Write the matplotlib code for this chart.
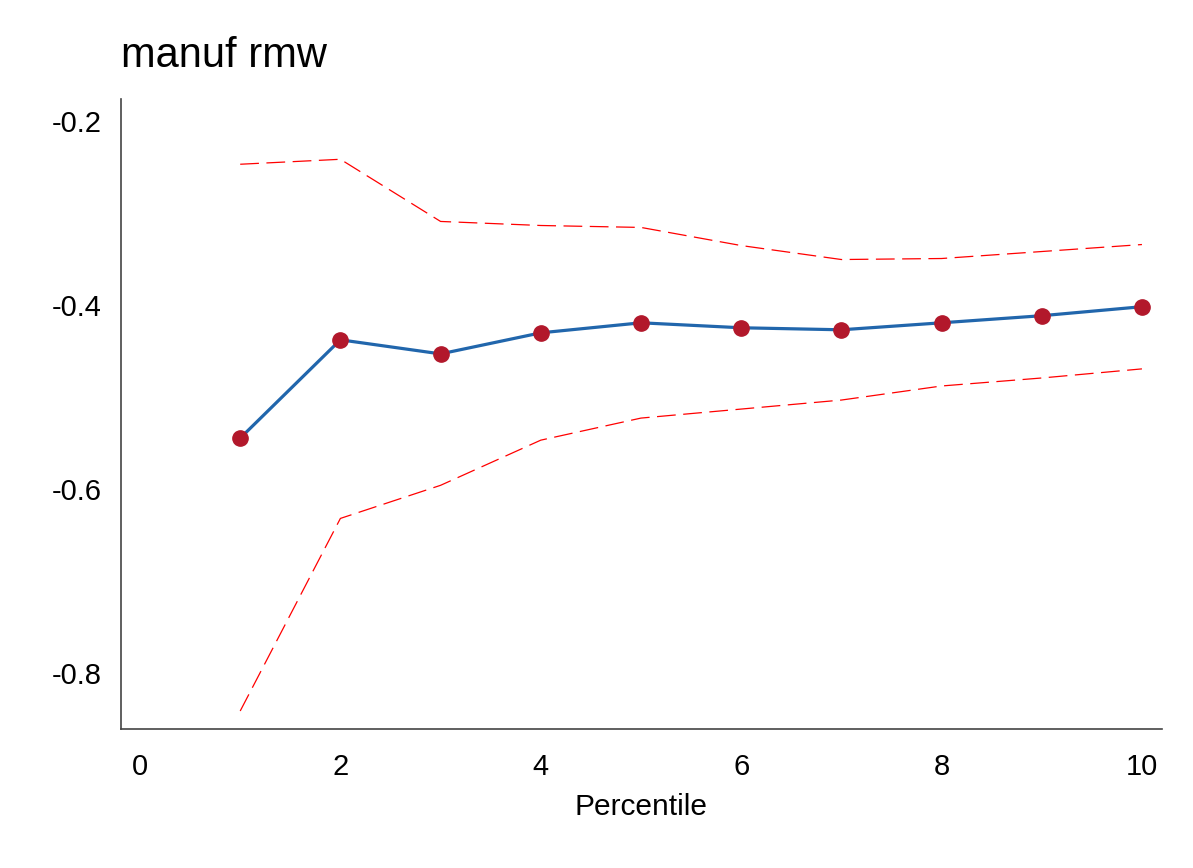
import matplotlib
matplotlib.use("Agg")
import matplotlib.pyplot as plt

plt.rcParams['font.family'] = ['Liberation Sans', 'DejaVu Sans']

percentile = [1, 2, 3, 4, 5, 6, 7, 8, 9, 10]
coef = [-0.5447, -0.4378, -0.4531, -0.4302, -0.4193, -0.4247, -0.4269, -0.4193, -0.4116, -0.4018]
upper = [-0.2469, -0.2415, -0.3091, -0.3135, -0.3156, -0.3353, -0.3505, -0.3494, -0.3418, -0.3342]
lower = [-0.8414, -0.6320, -0.5960, -0.5469, -0.5229, -0.5131, -0.5033, -0.4880, -0.4793, -0.4694]
xticks = [0, 2, 4, 6, 8, 10]
yticks = [-0.8, -0.6, -0.4, -0.2]
title = "manuf rmw"
xlabel = "Percentile"

fig = plt.figure(figsize=(11.93, 8.68), dpi=100)
ax = fig.add_axes([0.1014, 0.1601, 0.8726, 0.7258])

ax.plot(percentile, upper, color='#ff0000', lw=0.9, dashes=(15, 6))
ax.plot(percentile, lower, color='#ff0000', lw=0.9, dashes=(15, 6))
ax.plot(percentile, coef, color='#2166ac', lw=2.3, zorder=3)
ax.plot(percentile, coef, 'o', color='#b2182b', ms=11, zorder=4)

ax.set_xlim(-0.19, 10.2)
ax.set_ylim(-0.861, -0.176)
ax.set_xticks(xticks)
ax.set_xticklabels([str(t) for t in xticks])
ax.set_yticks(yticks)
ax.set_yticklabels([f"{t:.1f}" for t in yticks])
ax.tick_params(length=0, labelsize=21, colors='black')
ax.tick_params(axis='x', pad=17.5)
ax.tick_params(axis='y', pad=13.7)

for s in ['top', 'right']:
    ax.spines[s].set_visible(False)
for s in ['left', 'bottom']:
    ax.spines[s].set_color('#444444')
    ax.spines[s].set_linewidth(1.2)

ax.set_xlabel(xlabel, fontsize=21.5, va='baseline')
ax.xaxis.set_label_coords(0.5, -0.1365)
fig.text(0.1014, 0.9228, title, fontsize=30, ha='left', va='baseline')

fig.savefig("out.png", dpi=100, facecolor='white')
